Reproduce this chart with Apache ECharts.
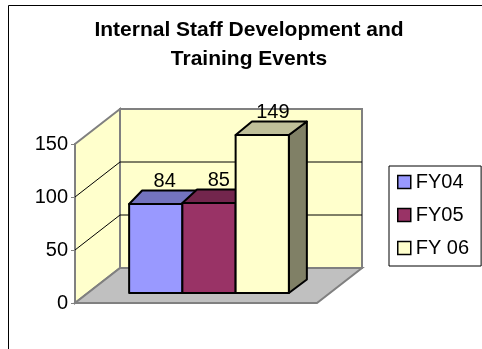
<!DOCTYPE html>
<html>
<head>
<meta charset="utf-8">
<script src="https://cdn.jsdelivr.net/npm/echarts@6/dist/echarts.min.js"></script>
<style>
  html, body { margin: 0; padding: 0; background: #fff; }
  #chart { width: 482px; height: 349px; }
</style>
</head>
<body>
<div id="chart"></div>
<script>
// Chart data
const categories = [''];
const seriesNames = ['FY04', 'FY05', 'FY 06'];
const values = [84, 85, 149];
const yTicks = [0, 50, 100, 150];

// Face colours for each series: front, top, side
const faceColors = [
  { front: '#9999FF', top: '#7373BF', side: '#4D4D80' },
  { front: '#993366', top: '#73264D', side: '#4D1A33' },
  { front: '#FFFFCC', top: '#BFBF99', side: '#808066' }
];

const FONT = '"Liberation Sans", Arial, sans-serif';
const WALL = { dx: 45, dy: -35 };              // depth of the plot box
const BAR_FRONT = { dx: 13, dy: -10 };         // bars sit a little back from the floor edge
const BAR_DEPTH = { dx: 13, skew: 5, dy: -13.5 }; // bar thickness (slight perspective)
const GROUP_FRAC = 0.66;                       // share of the band used by the bar group
const EDGE = '#808080';

const yMax = yTicks[yTicks.length - 1];
const yStep = yTicks[1] - yTicks[0];

function renderWalls(params, api) {
  const base = api.coord([0, 0]);
  const band = api.size([1, 0])[0];
  const xl = base[0] - band / 2, xr = base[0] + band / 2;
  const yb = base[1];
  const yt = api.coord([0, yMax])[1];
  const dx = WALL.dx, dy = WALL.dy;
  const children = [];
  // back wall
  children.push({ type: 'polygon', shape: { points: [[xl + dx, yt + dy], [xr + dx, yt + dy], [xr + dx, yb + dy], [xl + dx, yb + dy]] },
    style: { fill: '#FFFFCC', stroke: EDGE, lineWidth: 2 } });
  // side wall
  children.push({ type: 'polygon', shape: { points: [[xl, yt], [xl + dx, yt + dy], [xl + dx, yb + dy], [xl, yb]] },
    style: { fill: '#FFFFCC', stroke: EDGE, lineWidth: 2 } });
  // floor
  children.push({ type: 'polygon', shape: { points: [[xl, yb], [xr, yb], [xr + dx, yb + dy], [xl + dx, yb + dy]] },
    style: { fill: '#C0C0C0', stroke: EDGE, lineWidth: 2 } });
  // grid lines on side and back walls
  yTicks.forEach(function (v) {
    if (v === 0 || v === yMax) return;
    const y = api.coord([0, v])[1];
    children.push({ type: 'line', shape: { x1: xl, y1: y, x2: xl + dx, y2: y + dy }, style: { stroke: '#000', lineWidth: 1 } });
    children.push({ type: 'line', shape: { x1: xl + dx, y1: y + dy, x2: xr + dx, y2: y + dy }, style: { stroke: '#000', lineWidth: 1 } });
  });
  // front edge of the floor
  children.push({ type: 'line', shape: { x1: xl, y1: yb, x2: xr, y2: yb }, style: { stroke: EDGE, lineWidth: 2 } });
  return { type: 'group', children: children };
}

function renderBar(params, api) {
  const slot = params.seriesIndex - 1;
  const col = faceColors[slot];
  const cat = api.value(0);
  const base = api.coord([cat, 0]);
  const yTopRaw = api.coord([cat, api.value(1)])[1];
  const band = api.size([1, 0])[0];
  const groupW = band * GROUP_FRAC;
  const barW = groupW / seriesNames.length;
  const gx0 = base[0] - band / 2 + (band - groupW) / 2 + BAR_FRONT.dx;
  const x0 = gx0 + slot * barW, x1 = x0 + barW;
  const yB = base[1] + BAR_FRONT.dy, yT = yTopRaw + BAR_FRONT.dy;
  const sx = function (x) { return BAR_DEPTH.dx + BAR_DEPTH.skew * (x - gx0) / groupW; };
  const dy = BAR_DEPTH.dy;
  const stroke = { stroke: '#000', lineWidth: 2, lineJoin: 'round' };
  const children = [
    { type: 'polygon', shape: { points: [[x1, yT], [x1 + sx(x1), yT + dy], [x1 + sx(x1), yB + dy], [x1, yB]] },
      style: Object.assign({ fill: col.side }, stroke) },
    { type: 'polygon', shape: { points: [[x0, yT], [x1, yT], [x1 + sx(x1), yT + dy], [x0 + sx(x0), yT + dy]] },
      style: Object.assign({ fill: col.top }, stroke) },
    { type: 'polygon', shape: { points: [[x0, yT], [x1, yT], [x1, yB], [x0, yB]] },
      style: Object.assign({ fill: col.front }, stroke) },
    { type: 'text', x: (x0 + x1) / 2 + (sx(x0) + sx(x1)) / 4 + 2, y: yT + dy - 9,
      style: { text: String(api.value(1)), font: '20px ' + FONT, fill: '#000', align: 'center', verticalAlign: 'middle' } }
  ];
  return { type: 'group', children: children };
}

const series = [{
  type: 'custom', name: 'walls', z: 1, silent: true,
  renderItem: renderWalls, data: [[0, 0]], encode: { x: 0, y: 1 }
}];
seriesNames.forEach(function (name, i) {
  series.push({
    type: 'custom', name: name, z: 2 + i,
    itemStyle: { color: faceColors[i].front },
    renderItem: renderBar, data: [[0, values[i]]], encode: { x: 0, y: 1 }
  });
});

const chart = echarts.init(document.getElementById('chart'), null, { renderer: 'canvas' });
chart.setOption({
  animation: false,
  backgroundColor: '#fff',
  textStyle: { fontFamily: FONT },
  title: {
    text: 'Internal Staff Development and\nTraining Events',
    left: 249, top: 16, padding: 0, textAlign: 'center',
    textStyle: { fontFamily: FONT, fontSize: 21, fontWeight: 'bold', color: '#000', lineHeight: 29 }
  },
  graphic: [{
    type: 'rect', shape: { x: 8.5, y: 5.5, width: 520, height: 400 },
    style: { fill: null, stroke: '#000', lineWidth: 1 }, z: 0, silent: true
  }],
  legend: {
    orient: 'vertical', left: 389, top: 166,
    padding: [6, 12, 8, 8], itemWidth: 13, itemHeight: 13, itemGap: 13,
    borderColor: '#000', borderWidth: 1, backgroundColor: '#fff',
    textStyle: { fontFamily: FONT, fontSize: 20, lineHeight: 20, color: '#000' },
    data: seriesNames.map(function (n, i) {
      return { name: n, icon: 'rect', itemStyle: { color: faceColors[i].front, borderColor: '#000', borderWidth: 1.5 } };
    })
  },
  grid: { left: 75, top: 144, width: 242, height: 159 },
  xAxis: {
    type: 'category', data: categories,
    axisLine: { show: false }, axisTick: { show: false }, axisLabel: { show: false }, splitLine: { show: false }
  },
  yAxis: {
    type: 'value', min: yTicks[0], max: yMax, interval: yStep,
    axisLine: { show: true, lineStyle: { color: EDGE, width: 2 } },
    axisTick: { show: true, length: 4, lineStyle: { color: EDGE, width: 1 } },
    axisLabel: { fontFamily: FONT, fontSize: 20, color: '#000', margin: 7 },
    splitLine: { show: false }
  },
  series: series
});
</script>
</body>
</html>
